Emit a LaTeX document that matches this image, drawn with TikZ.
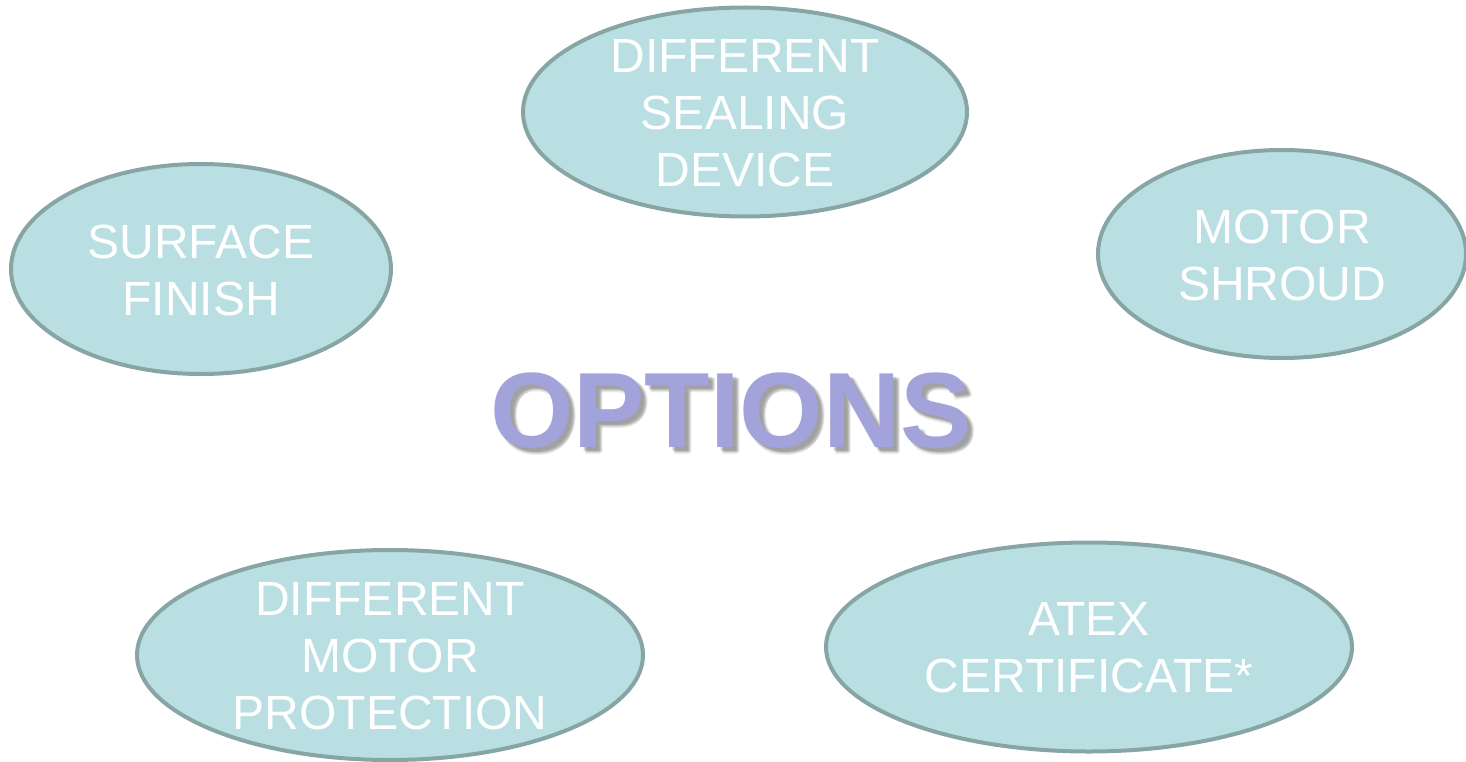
\documentclass[tikz,border=0pt]{standalone}
\usepackage{fontspec}
\setmainfont{Liberation Sans}
\usetikzlibrary{shapes.geometric}
\definecolor{ellfill}{HTML}{B9DFE2}
\definecolor{elldraw}{HTML}{87A5A5}
\definecolor{optcol}{HTML}{A3A3DC}
\tikzset{
  opt/.style={ellipse, fill=ellfill, draw=elldraw, line width=4pt, inner sep=0pt,
    minimum width=#1},
  lbl/.style={text=white, align=center, font=\fontsize{48}{57}\selectfont},
  optfont/.style={font=\fontsize{107}{120}\selectfont\bfseries},
  shad/.style={optfont, text=black!55, opacity=0.13},
}
\begin{document}
\begin{tikzpicture}[x=1pt,y=-1pt]
\useasboundingbox (0,0) rectangle (1466,762);
\node[opt=444pt, minimum height=209pt] (seal) at (745,112) {};
\node[lbl] (sealt) at (745,113) {DIFFERENT\\SEALING\\DEVICE};
\node[opt=380pt, minimum height=210pt] (surf) at (201,269) {};
\node[lbl] (surft) at (201,270) {SURFACE\\FINISH};
\node[opt=368pt, minimum height=208pt] (shroud) at (1282,254) {};
\node[lbl] (shroudt) at (1282,255) {MOTOR\\SHROUD};
\node[opt=506pt, minimum height=210pt] (prot) at (390,655) {};
\node[lbl] (prott) at (390,656) {DIFFERENT\\MOTOR\\PROTECTION};
\node[opt=526pt, minimum height=209pt] (atex) at (1089,647) {};
\node[lbl] (atext) at (1089,648) {ATEX\\CERTIFICATE*};
\foreach \dx/\dy in {3/3,4/5,5/4,6/6,5/7,7/5,4/4,6/4}{
  \node[shad] at (731+\dx,411+\dy) {OPTIONS};
}
\node[optfont, text=optcol] (opts) at (731,411) {OPTIONS};
\end{tikzpicture}
\end{document}
